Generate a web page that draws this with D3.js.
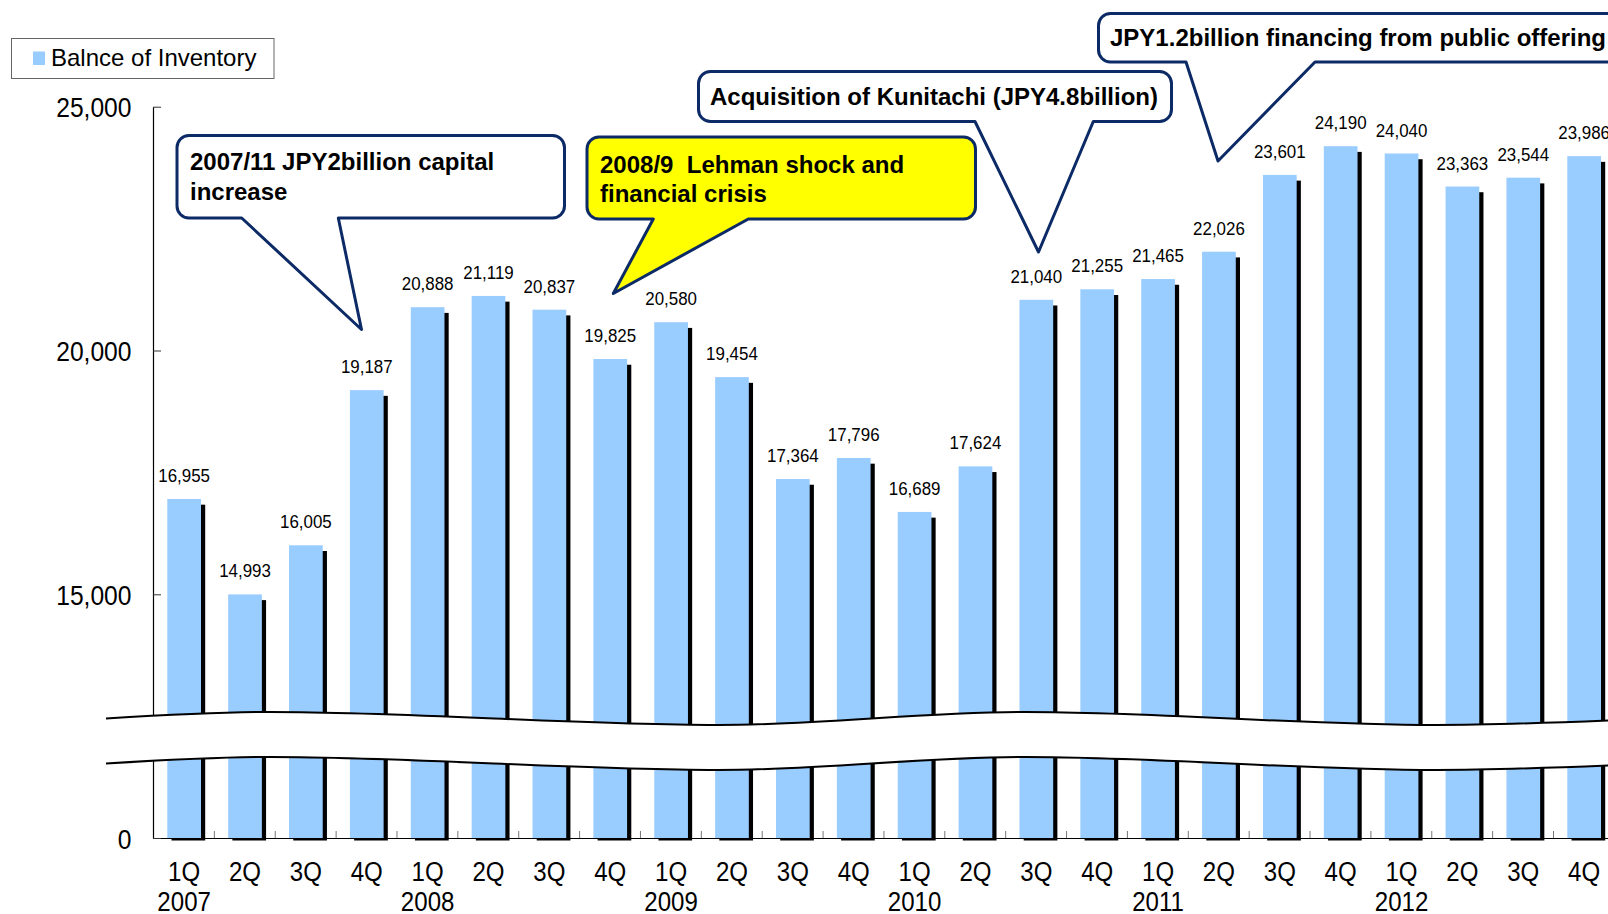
<!DOCTYPE html>
<html>
<head>
<meta charset="utf-8">
<script src="https://cdn.jsdelivr.net/npm/d3@7"></script>
<style>
  body { margin: 0; background: #fff; }
  svg { display: block; }
</style>
</head>
<body>
<svg id="chart" width="1608" height="914"></svg>
<script>
// Quarterly balance of inventory (JPY million)
const quarterLabels = ["1Q","2Q","3Q","4Q","1Q","2Q","3Q","4Q","1Q","2Q","3Q","4Q",
                       "1Q","2Q","3Q","4Q","1Q","2Q","3Q","4Q","1Q","2Q","3Q","4Q"];
const yearLabels = ["2007","","","","2008","","","","2009","","","",
                    "2010","","","","2011","","","","2012","","",""];
const inventory = [16955, 14993, 16005, 19187, 20888, 21119, 20837, 19825,
                   20580, 19454, 17364, 17796, 16689, 17624, 21040, 21255,
                   21465, 22026, 23601, 24190, 24040, 23363, 23544, 23986];
const yTickValues = [0, 15000, 20000, 25000];
const seriesName = "Balnce of Inventory";

const calloutLines = [
  ["2007/11 JPY2billion capital", "increase"],
  ["2008/9  Lehman shock and", "financial crisis"],
  ["Acquisition of Kunitachi (JPY4.8billion)"],
  ["JPY1.2billion financing from public offering"]
];

const svg = d3.select("#chart");
const NUM_FONT = "'Liberation Sans', Arial, sans-serif";
const BAR_COLOR = "#99ccff";
const NAVY = "#0c2a66";

// Layout
const plotLeft = 153, step = 60.87, baseY = 838;
const barOff = 14.3, barW = 33.7;

const x = d3.scaleBand()
  .domain(d3.range(inventory.length))
  .range([plotLeft, plotLeft + step * inventory.length])
  .padding(0);

// Broken value axis: 0..15,000 is compressed into one interval
const y = d3.scaleLinear()
  .domain([0, 15000, 25000])
  .range([baseY, 594.3, 106.7]);

// Horizontally condensed text helper
function condensed(sel, px, py, sx) {
  return sel.attr("transform", `translate(${px},${py}) scale(${sx},1)`);
}

// Bar shadows
svg.append("g").selectAll("rect")
  .data(inventory)
  .join("rect")
  .attr("x", (d, i) => x(i) + barOff + 4.2)
  .attr("y", d => y(d) + 5.7)
  .attr("width", barW)
  .attr("height", d => baseY + 2.5 - (y(d) + 5.7))
  .attr("fill", "#000");

// Bars
svg.append("g").selectAll("rect")
  .data(inventory)
  .join("rect")
  .attr("x", (d, i) => x(i) + barOff)
  .attr("y", d => y(d))
  .attr("width", barW)
  .attr("height", d => baseY - y(d))
  .attr("fill", BAR_COLOR);

// Category axis line and boundary ticks
svg.append("line")
  .attr("x1", plotLeft).attr("x2", x.range()[1])
  .attr("y1", baseY + 0.5).attr("y2", baseY + 0.5)
  .attr("stroke", "#000").attr("stroke-width", 1.2);

svg.append("g").selectAll("line")
  .data(d3.range(1, inventory.length))
  .join("line")
  .attr("x1", i => x(i) + 0.5).attr("x2", i => x(i) + 0.5)
  .attr("y1", baseY - 7).attr("y2", baseY)
  .attr("stroke", "#777").attr("stroke-width", 1);

// Value axis
const yAxis = svg.append("g")
  .attr("transform", `translate(${plotLeft},0)`)
  .call(d3.axisLeft(y)
    .tickValues(yTickValues)
    .tickFormat(d3.format(","))
    .tickSize(-8)
    .tickSizeOuter(0)
    .tickPadding(21.5));
yAxis.select(".domain").attr("stroke", "#000").attr("stroke-width", 1.2);
yAxis.selectAll(".tick line").attr("stroke", "#333");
yAxis.selectAll(".tick text")
  .attr("font-family", NUM_FONT)
  .attr("font-size", 28)
  .attr("fill", "#000")
  .attr("x", -21.5 / 0.88)
  .attr("dy", "0.36em")
  .attr("transform", "scale(0.88,1)");

// Axis break band
const wave = [[106, 718.5], [270, 712], [718, 725], [1025, 712], [1436, 725], [1620, 720]];
const gap = 45;
svg.append("path")
  .datum(wave)
  .attr("d", d3.area().x(d => d[0]).y0(d => d[1]).y1(d => d[1] + gap).curve(d3.curveMonotoneX))
  .attr("fill", "#fff");
[0, gap].forEach(off => {
  svg.append("path")
    .datum(wave)
    .attr("d", d3.line().x(d => d[0]).y(d => d[1] + off).curve(d3.curveMonotoneX))
    .attr("fill", "none")
    .attr("stroke", "#000")
    .attr("stroke-width", 2);
});

// Value labels
svg.append("g").selectAll("text")
  .data(inventory)
  .join("text")
  .each(function (d, i) {
    condensed(d3.select(this), x(i) + barOff + barW / 2, y(d) - 17, 0.9);
  })
  .attr("text-anchor", "middle")
  .attr("font-family", NUM_FONT)
  .attr("font-size", 18.8)
  .attr("fill", "#000")
  .text(d => d3.format(",")(d));

// Quarter and year labels
const catG = svg.append("g");
catG.selectAll("text.q")
  .data(quarterLabels)
  .join("text")
  .attr("class", "q")
  .each(function (d, i) {
    condensed(d3.select(this), x(i) + barOff + barW / 2, 881, 0.86);
  })
  .attr("text-anchor", "middle")
  .attr("font-family", NUM_FONT)
  .attr("font-size", 28)
  .attr("fill", "#000")
  .text(d => d);
catG.selectAll("text.yr")
  .data(yearLabels)
  .join("text")
  .attr("class", "yr")
  .each(function (d, i) {
    condensed(d3.select(this), x(i) + barOff + barW / 2, 910.5, 0.86);
  })
  .attr("text-anchor", "middle")
  .attr("font-family", NUM_FONT)
  .attr("font-size", 28)
  .attr("fill", "#000")
  .text(d => d);

// Legend
const lg = svg.append("g");
lg.append("rect")
  .attr("x", 11.5).attr("y", 38.5).attr("width", 262.5).attr("height", 40)
  .attr("fill", "#fff").attr("stroke", "#666").attr("stroke-width", 1);
lg.append("rect")
  .attr("x", 33).attr("y", 51.5).attr("width", 12).attr("height", 13.5)
  .attr("fill", BAR_COLOR);
lg.append("text")
  .attr("x", 51).attr("y", 66)
  .attr("font-family", NUM_FONT).attr("font-size", 24).attr("fill", "#000")
  .text(seriesName);

// Callout boxes: rounded rectangle with a pointer from the bottom edge
function calloutPath(b, t, r) {
  const [x0, y0, x1, y1] = b;
  const [bl, br, tx, ty] = t;
  return `M${x0 + r},${y0} H${x1 - r} A${r},${r} 0 0 1 ${x1},${y0 + r}` +
         ` V${y1 - r} A${r},${r} 0 0 1 ${x1 - r},${y1} H${br} L${tx},${ty} L${bl},${y1}` +
         ` H${x0 + r} A${r},${r} 0 0 1 ${x0},${y1 - r} V${y0 + r} A${r},${r} 0 0 1 ${x0 + r},${y0} Z`;
}

const callouts = [
  { box: [177, 135.5, 564.5, 218], tail: [241.7, 338.3, 361.5, 329.5], fill: "#fff",
    tx: 190, ty: [170, 199.5] },
  { box: [587, 137, 975.5, 219], tail: [653.3, 748.3, 613.3, 293.5], fill: "#ffff00",
    tx: 600, ty: [173.3, 201.7] },
  { box: [698.5, 71.5, 1171.5, 121.5], tail: [975, 1093.3, 1038.5, 252], fill: "#fff",
    tx: 710, ty: [105] },
  { box: [1098.5, 13.5, 1640, 62], tail: [1186, 1315, 1218, 161], fill: "#fff",
    tx: 1110, ty: [46] }
];

callouts.forEach((c, k) => {
  const g = svg.append("g");
  g.append("path")
    .attr("d", calloutPath(c.box, c.tail, 12))
    .attr("fill", c.fill)
    .attr("stroke", NAVY)
    .attr("stroke-width", 3)
    .attr("stroke-linejoin", "round");
  calloutLines[k].forEach((line, j) => {
    g.append("text")
      .attr("x", c.tx).attr("y", c.ty[j])
      .attr("font-family", NUM_FONT)
      .attr("font-weight", "bold")
      .attr("font-size", 24)
      .attr("fill", "#000")
      .attr("xml:space", "preserve")
      .style("white-space", "pre")
      .text(line);
  });
});
</script>
</body>
</html>
